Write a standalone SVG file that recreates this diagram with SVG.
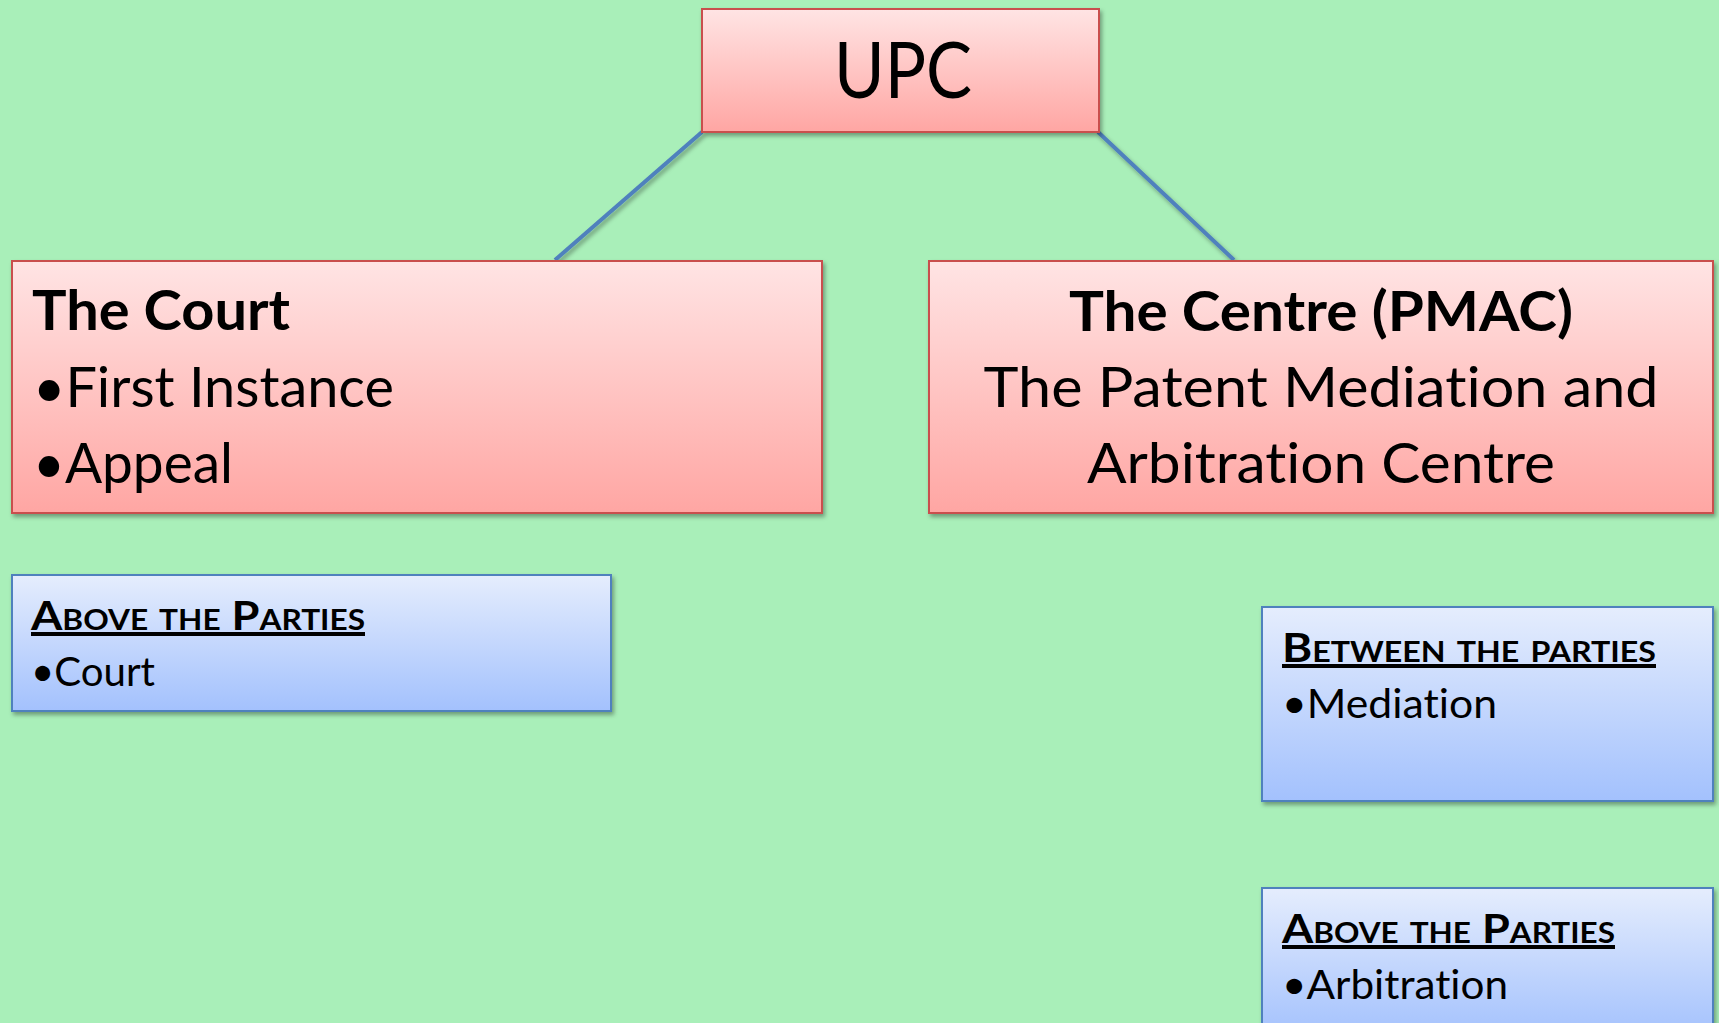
<svg xmlns="http://www.w3.org/2000/svg" width="1719" height="1023" viewBox="0 0 1719 1023">
  <style>
    .red { fill: url(#gRed); stroke: #C9504D; stroke-width: 2; filter: url(#shadow); }
    .blue { fill: url(#gBlue); stroke: #4F81BD; stroke-width: 2; filter: url(#shadow); }
    .t { font-family: Lato, "Open Sans", "Liberation Sans", sans-serif; fill: #000; font-variant-ligatures: none; font-feature-settings: "liga" 0, "clig" 0; }
    .big { font-size: 56px; }
    .bold { font-weight: bold; }
    .small { font-size: 40px; }
    .head { font-size: 40px; font-weight: bold; font-variant-caps: small-caps; text-decoration: underline; }
    .conn { stroke: #4F81BD; stroke-width: 4; fill: none; filter: url(#shadow); }
  </style>
  <defs>
    <linearGradient id="gRed" x1="0" y1="0" x2="0" y2="1">
      <stop offset="0" stop-color="#FFE4E4"/>
      <stop offset="1" stop-color="#FFA6A3"/>
    </linearGradient>
    <linearGradient id="gBlue" x1="0" y1="0" x2="0" y2="1">
      <stop offset="0" stop-color="#E5EDFD"/>
      <stop offset="1" stop-color="#A3C1FD"/>
    </linearGradient>
    <filter id="shadow" x="-10%" y="-10%" width="120%" height="130%">
      <feDropShadow dx="2" dy="3" stdDeviation="2" flood-color="#000" flood-opacity="0.35"/>
    </filter>
  </defs>
  <rect width="1719" height="1023" fill="#A9EFB9"/>

  <g id="connectors">
    <line class="conn" x1="702" y1="132" x2="555" y2="260"/>
    <line class="conn" x1="1098" y1="132" x2="1234" y2="260"/>
  </g>

  <g id="upc">
    <rect class="red" x="702" y="9" width="397" height="123"/>
    <text class="t" x="903" y="98" text-anchor="middle" font-size="77" textLength="138" lengthAdjust="spacingAndGlyphs">UPC</text>
  </g>

  <g id="court">
    <rect class="red" x="12" y="261" width="810" height="252"/>
    <text class="t big bold" x="32" y="330" textLength="258" lengthAdjust="spacingAndGlyphs">The Court</text>
    <text class="t big" x="33" y="407" textLength="361" lengthAdjust="spacingAndGlyphs">•First Instance</text>
    <text class="t big" x="33" y="483" textLength="200" lengthAdjust="spacingAndGlyphs">•Appeal</text>
  </g>

  <g id="centre">
    <rect class="red" x="929" y="261" width="784" height="252"/>
    <text class="t big bold" x="1321" y="331" text-anchor="middle" textLength="504" lengthAdjust="spacingAndGlyphs">The Centre (PMAC)</text>
    <text class="t big" x="1321" y="407" text-anchor="middle" textLength="675" lengthAdjust="spacingAndGlyphs">The Patent Mediation and</text>
    <text class="t big" x="1321" y="483" text-anchor="middle" textLength="468" lengthAdjust="spacingAndGlyphs">Arbitration Centre</text>
  </g>

  <g id="above-court">
    <rect class="blue" x="12" y="575" width="599" height="136"/>
    <text class="t head" x="31" y="630" textLength="334" lengthAdjust="spacingAndGlyphs">Above the Parties</text>
    <text class="t small" x="31" y="686" textLength="124" lengthAdjust="spacingAndGlyphs">•Court</text>
  </g>

  <g id="between-mediation">
    <rect class="blue" x="1262" y="607" width="451" height="194"/>
    <text class="t head" x="1282" y="662" textLength="374" lengthAdjust="spacingAndGlyphs">Between the parties</text>
    <text class="t small" x="1282" y="718" textLength="215" lengthAdjust="spacingAndGlyphs">•Mediation</text>
  </g>

  <g id="above-arbitration">
    <rect class="blue" x="1262" y="888" width="451" height="150"/>
    <text class="t head" x="1282" y="943" textLength="333" lengthAdjust="spacingAndGlyphs">Above the Parties</text>
    <text class="t small" x="1282" y="999" textLength="226" lengthAdjust="spacingAndGlyphs">•Arbitration</text>
  </g>
</svg>
